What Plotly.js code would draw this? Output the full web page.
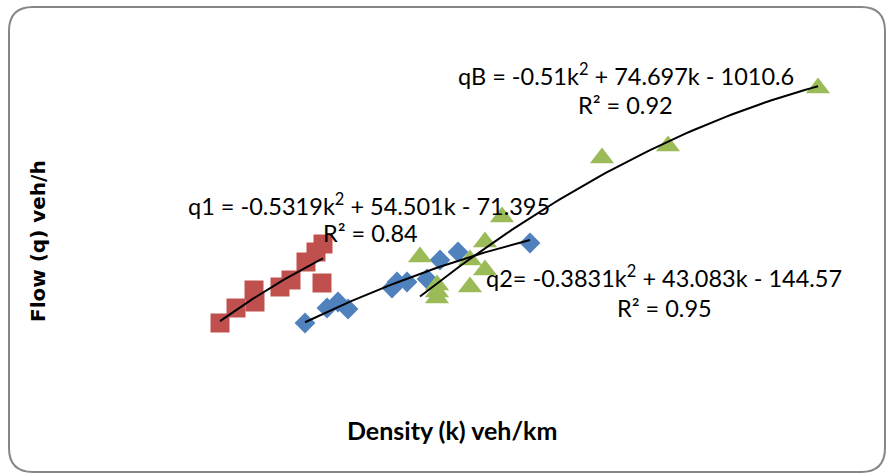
<!DOCTYPE html>
<html><head><meta charset="utf-8">
<script src="https://cdn.plot.ly/plotly-3.0.1.min.js"></script>
<style>html,body{margin:0;padding:0;background:#fff}#chart{width:886px;height:474px}</style>
</head><body><div id="chart"></div>
<script>
// Density k (veh/km) and flow q (veh/h)
const k1 = [16.0, 17.6, 19.4, 19.5, 22.0, 23.1, 24.6, 25.6, 26.3, 26.2];
const q1 = [405, 480, 570, 510, 585, 620, 710, 760, 800, 605];
const k2 = [24.5, 26.7, 27.8, 28.8, 33.2, 33.7, 34.7, 36.7, 38.0, 39.8, 47.0];
const q2 = [405, 480, 510, 475, 580, 610, 610, 625, 720, 760, 805];
const kB = [36.0, 37.7, 37.7, 37.7, 41.0, 41.0, 42.5, 42.5, 44.2, 54.2, 60.8, 75.8];
const qB = [735, 595, 560, 530, 720, 585, 810, 670, 935, 1230, 1290, 1580];

const eq1 = 'q1 = -0.5319k<sup>2</sup> + 54.501k - 71.395';
const r1 = 'R² = 0.84';
const eq2 = 'q2= -0.3831k<sup>2</sup> + 43.083k - 144.57';
const r2 = 'R² = 0.95';
const eqB = 'qB = -0.51k<sup>2</sup> + 74.697k - 1010.6';
const rB = 'R² = 0.92';
const xTitle = 'Density (k) veh/km';
const yTitle = 'Flow (q) veh/h';

// least-squares quadratic trendline (as the spreadsheet does)
function polyFit2(xs, ys) {
  let S = [0,0,0,0,0], T = [0,0,0];
  for (let i = 0; i < xs.length; i++) {
    let p = 1;
    for (let j = 0; j < 5; j++) { S[j] += p; if (j < 3) T[j] += p * ys[i]; p *= xs[i]; }
  }
  const A = [[S[0],S[1],S[2],T[0]],[S[1],S[2],S[3],T[1]],[S[2],S[3],S[4],T[2]]];
  for (let c = 0; c < 3; c++) {
    for (let r = c + 1; r < 3; r++) {
      const f = A[r][c] / A[c][c];
      for (let j = c; j < 4; j++) A[r][j] -= f * A[c][j];
    }
  }
  const b = [0,0,0];
  for (let r = 2; r >= 0; r--) {
    let s = A[r][3];
    for (let j = r + 1; j < 3; j++) s -= A[r][j] * b[j];
    b[r] = s / A[r][r];
  }
  return b;
}
function trend(xs, ys) {
  const b = polyFit2(xs, ys);
  const lo = Math.min(...xs), hi = Math.max(...xs);
  const X = [], Y = [];
  for (let i = 0; i <= 60; i++) { const x = lo + (hi - lo) * i / 60; X.push(x); Y.push(b[0] + b[1]*x + b[2]*x*x); }
  return {X, Y};
}

const t1 = trend(k1, q1), t2 = trend(k2, q2), tB = trend(kB, qB);

const data = [
  {x: k1, y: q1, mode: 'markers', type: 'scatter', marker: {symbol: 'square', size: 19, color: '#C0504D', line: {width: 0}}},
  {x: k2, y: q2, mode: 'markers', type: 'scatter', marker: {symbol: 'diamond', size: 16, color: '#4F81BD', line: {width: 0}}},
  {x: kB, y: qB, mode: 'markers', type: 'scatter', marker: {symbol: 'triangle-up', size: 21, color: '#9BBB59', line: {width: 0}}},
  {x: t1.X, y: t1.Y, mode: 'lines', type: 'scatter', line: {color: '#000', width: 2}},
  {x: t2.X, y: t2.Y, mode: 'lines', type: 'scatter', line: {color: '#000', width: 2}},
  {x: tB.X, y: tB.Y, mode: 'lines', type: 'scatter', line: {color: '#000', width: 2}}
];

const L = 60, R = 6, T = 20, B = 70, W = 886, H = 474;
const pw = W - L - R, ph = H - T - B;
const px = v => (v - L) / pw;
const py = v => (H - B - v) / ph;

function ann(text, x, y, size, family, bold, angle) {
  return {text: bold ? '<b>' + text + '</b>' : text, xref: 'paper', yref: 'paper', x: px(x), y: py(y),
    xanchor: 'center', yanchor: 'middle', showarrow: false, textangle: angle || 0,
    font: {family: family, size: size, color: '#000'}};
}
const eqFont = 'Lato, Calibri, sans-serif';
const annotations = [
  ann(eqB, 626, 74, 23.5, eqFont),
  ann(rB, 625, 105, 23.5, eqFont),
  ann(eq1, 369, 204, 23.5, eqFont),
  ann(r1, 370, 233, 23.5, eqFont),
  ann(eq2, 664, 276, 23.5, eqFont),
  ann(r2, 664, 308, 23.5, eqFont),
  ann(xTitle, 452, 430, 25, eqFont, true),
  ann(yTitle, 38, 241, 20, 'DejaVu Sans, Verdana, sans-serif', true, -90)
];

// rounded chart-area border
const x0 = 9, x1 = 885, y0 = 7, y1 = 472, rr = 24;
const P = (x, y) => px(x) + ',' + py(y);
const path = 'M ' + P(x0 + rr, y0) + ' L ' + P(x1 - rr, y0) + ' Q ' + P(x1, y0) + ' ' + P(x1, y0 + rr) +
  ' L ' + P(x1, y1 - rr) + ' Q ' + P(x1, y1) + ' ' + P(x1 - rr, y1) +
  ' L ' + P(x0 + rr, y1) + ' Q ' + P(x0, y1) + ' ' + P(x0, y1 - rr) +
  ' L ' + P(x0, y0 + rr) + ' Q ' + P(x0, y0) + ' ' + P(x0 + rr, y0) + ' Z';

const layout = {
  width: W, height: H,
  margin: {l: L, r: R, t: T, b: B},
  paper_bgcolor: '#fff', plot_bgcolor: '#fff',
  showlegend: false,
  xaxis: {range: [0, 82], visible: false},
  yaxis: {range: [0, 1920], visible: false},
  annotations: annotations,
  shapes: [{type: 'path', xref: 'paper', yref: 'paper', path: path, line: {color: '#868686', width: 2}, fillcolor: 'rgba(0,0,0,0)', layer: 'below'}]
};

Plotly.newPlot('chart', data, layout, {displayModeBar: false, staticPlot: true});
</script></body></html>
